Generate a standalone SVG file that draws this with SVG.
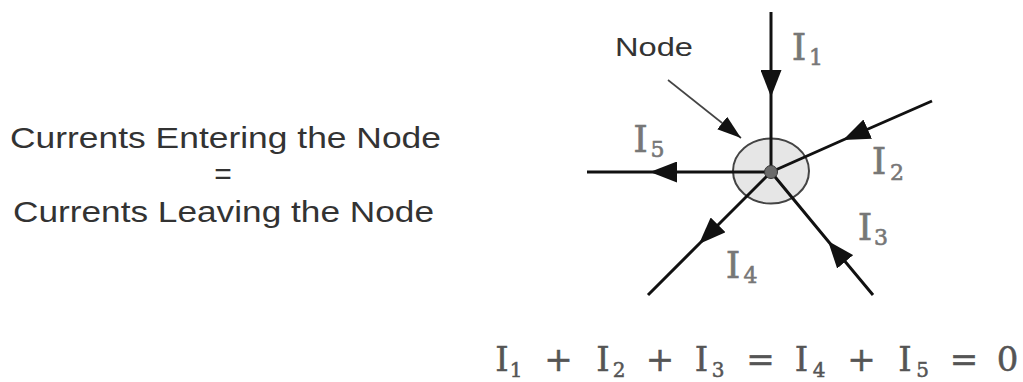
<svg xmlns="http://www.w3.org/2000/svg" width="1023" height="382" viewBox="0 0 1023 382">
  <style>
    .lead { font-family: "Liberation Sans", Arial, sans-serif; fill: #333; }
    .lbl { font-family: "DejaVu Serif", "Liberation Serif", serif; fill: #777; stroke: #777; stroke-width: 0.6; text-anchor: middle; }
    .big { font-size: 37px; }
    .sub { font-size: 22px; }
    .eq { font-family: "DejaVu Serif", "Liberation Serif", serif; fill: #555; stroke: #555; stroke-width: 0.5; text-anchor: middle; }
    .eqb { font-size: 34px; }
    .eqs { font-size: 20px; }
    .wire { fill: none; stroke: #111; stroke-width: 3; marker-mid: url(#arr); }
  </style>
  <defs>
    <marker id="arr" markerUnits="userSpaceOnUse" markerWidth="27" markerHeight="21" viewBox="0 0 27 21" refX="27" refY="10.5" orient="auto">
      <path d="M0,0 L27,10.5 L0,21 Z" fill="#111"/>
    </marker>
    <marker id="ptr" markerUnits="userSpaceOnUse" markerWidth="24" markerHeight="16" viewBox="0 0 24 16" refX="24" refY="8" orient="auto">
      <path d="M0,0 L24,8 L0,16 Z" fill="#111"/>
    </marker>
  </defs>

  <rect width="1023" height="382" fill="#fff"/>

  <g id="statement">
    <text class="lead" x="10" y="148" font-size="30" textLength="431" lengthAdjust="spacingAndGlyphs">Currents Entering the Node</text>
    <text class="lead" x="223" y="184" font-size="30" text-anchor="middle">=</text>
    <text class="lead" x="13" y="222" font-size="30" textLength="421" lengthAdjust="spacingAndGlyphs">Currents Leaving the Node</text>
  </g>

  <g id="node">
    <ellipse cx="771" cy="171" rx="38" ry="32.5" fill="#e6e6e6" stroke="#444" stroke-width="2"/>
  </g>

  <g id="connectors">
    <path class="wire" d="M771,12 L771,97 L771,172"/>
    <path class="wire" d="M932,101 L843,140 L771,172"/>
    <path class="wire" d="M873,295 L828,241 L771,172"/>
    <path class="wire" d="M771,172 L699,244 L648,295"/>
    <path class="wire" d="M771,172 L650,172 L587,172"/>
    <path d="M668,80 L741,138" fill="none" stroke="#444" stroke-width="1.6" marker-end="url(#ptr)"/>
  </g>

  <g id="junction">
    <circle cx="771" cy="172" r="6.5" fill="#6a6a6a" stroke="#333" stroke-width="1"/>
  </g>

  <g id="node-label">
    <text class="lead" x="615" y="56" font-size="25" textLength="78" lengthAdjust="spacingAndGlyphs">Node</text>
  </g>

  <g id="current-labels">
    <text class="lbl big" x="799" y="59.5">I</text><text class="lbl sub" x="816" y="65">1</text>
    <text class="lbl big" x="879" y="173.5">I</text><text class="lbl sub" x="897" y="180">2</text>
    <text class="lbl big" x="865" y="240">I</text><text class="lbl sub" x="881" y="245">3</text>
    <text class="lbl big" x="733" y="278">I</text><text class="lbl sub" x="750.5" y="283">4</text>
    <text class="lbl big" x="640.5" y="152">I</text><text class="lbl sub" x="657.5" y="157">5</text>
  </g>

  <g id="equation">
    <text class="eq eqb" x="502" y="371">I</text><text class="eq eqs" x="516" y="377">1</text>
    <text class="eq eqb" x="558.5" y="371">+</text>
    <text class="eq eqb" x="603" y="371">I</text><text class="eq eqs" x="619" y="377">2</text>
    <text class="eq eqb" x="660" y="371">+</text>
    <text class="eq eqb" x="701.5" y="371">I</text><text class="eq eqs" x="718" y="377">3</text>
    <text class="eq eqb" x="760.5" y="371">=</text>
    <text class="eq eqb" x="801.5" y="371">I</text><text class="eq eqs" x="819" y="377">4</text>
    <text class="eq eqb" x="861.5" y="371">+</text>
    <text class="eq eqb" x="905" y="371">I</text><text class="eq eqs" x="922.5" y="377">5</text>
    <text class="eq eqb" x="964" y="371">=</text>
    <text class="eq eqb" x="1007.5" y="371">0</text>
  </g>
</svg>
